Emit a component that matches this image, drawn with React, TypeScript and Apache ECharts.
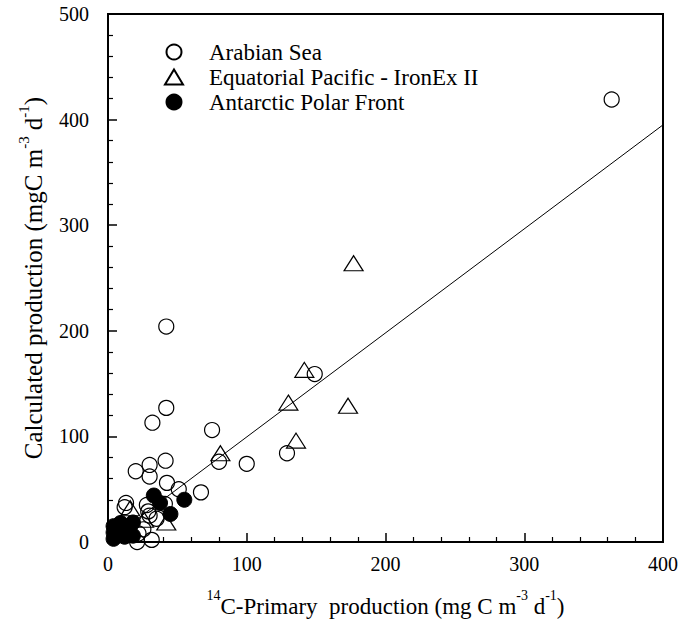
import React, { useEffect, useRef } from 'react';
import * as echarts from 'echarts';

// Arabian Sea (open circles): [14C primary production, calculated production]
const arabianSea: number[][] = [
  [363, 419], [149, 159], [42, 204], [42, 127], [32, 113], [75, 106],
  [129, 84], [80, 76], [100, 74], [20, 67], [30, 73], [41.5, 77],
  [30, 62], [42.5, 56], [51, 50], [67, 47], [41, 36], [13, 37],
  [12, 33], [28, 35], [29, 29], [35, 22], [30, 25], [25.5, 12],
  [22, 8], [31.5, 2], [21, 0],
];

// Equatorial Pacific - IronEx II (open triangles)
const equatorialPacific: number[][] = [
  [177, 264], [141.5, 163], [130, 132], [173, 129], [135.5, 96],
  [81, 84], [16, 32], [42, 18.5], [26, 21],
];

// Antarctic Polar Front (filled circles)
const antarcticPolarFront: number[][] = [
  [55, 40], [33, 44], [37.5, 37], [45, 26.5], [4, 15], [9, 18],
  [18, 18.5], [4, 3], [9, 7.5], [18, 6], [15, 12], [4, 9], [12, 5],
];

// regression line end points
const fitLine: number[][] = [[0, 1], [400, 395]];

const seriesNames = ['Arabian Sea', 'Equatorial Pacific - IronEx II', 'Antarctic Polar Front'];

const FONT = '"Liberation Serif", "Times New Roman", serif';

const richX = {
  t: { fontSize: 23, fontFamily: FONT, color: '#000', lineHeight: 30, verticalAlign: 'bottom' },
  s: { fontSize: 14, fontFamily: FONT, color: '#000', lineHeight: 14, verticalAlign: 'top' },
};
const richY = {
  t: { fontSize: 25, fontFamily: FONT, color: '#000', lineHeight: 30, verticalAlign: 'bottom' },
  s: { fontSize: 15, fontFamily: FONT, color: '#000', lineHeight: 15, verticalAlign: 'top' },
};

export default function App() {
  const ref = useRef<HTMLDivElement>(null);
  useEffect(() => {
    if (!ref.current) return;
    const chart = echarts.init(ref.current, undefined, { renderer: 'svg' });
    const axisCommon = {
      axisLine: { show: true, lineStyle: { color: '#000', width: 2 } },
      axisTick: { show: true, inside: true, length: 9, lineStyle: { color: '#000', width: 1.5 } },
      minorTick: { show: true, splitNumber: 5, length: 5, lineStyle: { color: '#000', width: 1.2 } },
      splitLine: { show: false },
      nameLocation: 'middle' as const,
    };
    chart.setOption({
      animation: false,
      backgroundColor: '#fff',
      textStyle: { fontFamily: FONT },
      grid: {
        left: 108, right: 17, top: 14, bottom: 80,
        show: true, borderColor: '#000', borderWidth: 2, backgroundColor: 'transparent',
      },
      legend: {
        data: seriesNames,
        orient: 'vertical',
        left: 159,
        top: 35,
        itemWidth: 18,
        itemHeight: 15,
        itemGap: 1,
        textStyle: { fontSize: 23, fontFamily: FONT, color: '#000', lineHeight: 24, padding: [0, 0, 0, 21] },
      },
      xAxis: {
        ...axisCommon,
        type: 'value',
        min: 0,
        max: 400,
        interval: 100,
        name: '{s|14}{t|C-Primary  production (mg C m}{s|-3}{t| d}{s|-1}{t|)}',
        nameGap: 46,
        nameTextStyle: { rich: richX },
        axisLabel: { margin: 12, fontSize: 20, fontFamily: FONT, color: '#000' },
      },
      yAxis: {
        ...axisCommon,
        type: 'value',
        min: 0,
        max: 500,
        interval: 100,
        name: '{t|Calculated production (mgC m}{s|-3}{t| d}{s|-1}{t|)}',
        nameGap: 62,
        nameTextStyle: { rich: richY },
        axisLabel: { margin: 19, fontSize: 20, fontFamily: FONT, color: '#000' },
      },
      series: [
        {
          type: 'line',
          name: 'fit',
          data: fitLine,
          showSymbol: false,
          symbol: 'none',
          silent: true,
          lineStyle: { color: '#000', width: 1 },
          z: 1,
        },
        {
          type: 'scatter',
          name: seriesNames[0],
          data: arabianSea,
          symbol: 'circle',
          symbolSize: 15,
          itemStyle: { color: 'rgba(255,255,255,0)', borderColor: '#000', borderWidth: 1.2, opacity: 1 },
          z: 2,
        },
        {
          type: 'scatter',
          name: seriesNames[1],
          data: equatorialPacific,
          symbol: 'triangle',
          symbolSize: [19, 15],
          itemStyle: { color: 'rgba(255,255,255,0)', borderColor: '#000', borderWidth: 1.2, opacity: 1 },
          z: 3,
        },
        {
          type: 'scatter',
          name: seriesNames[2],
          data: antarcticPolarFront,
          symbol: 'circle',
          symbolSize: 15,
          itemStyle: { color: '#000', borderColor: '#000', borderWidth: 1, opacity: 1 },
          z: 4,
        },
      ],
    });
    return () => chart.dispose();
  }, []);
  return (
    <div
      ref={ref}
      style={{ position: 'fixed', left: 0, top: 0, width: 681, height: 623, background: '#fff' }}
    />
  );
}
